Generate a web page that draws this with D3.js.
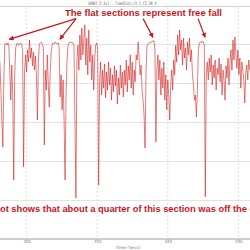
<!DOCTYPE html>
<html>
<head>
<meta charset="utf-8">
<script src="https://cdn.jsdelivr.net/npm/d3@7"></script>
<style>
  html, body { margin: 0; padding: 0; background: #fff; }
  svg { display: block; }
</style>
</head>
<body>
<svg id="chart" width="250" height="250"></svg>
<script>
// ---- data ----
const chartTitle = "JERKY 2.3x7 - TimeSlot:/3_1_C2_20_X";
const xLabel = "Time (Secs)";
const tickValues = [300, 310, 320, 330];
const tickLabels = ["300", "310", "320", "330"];
const gridValues = [-4, -3, -2, -1, 0];
const startTime = 296.2;     // seconds, first sample
const sampleStep = 0.14;     // seconds between samples
const accel = [
  -0.46,-1.18,-1.95,-2.64,-0.92,0.00,0.03,-0.03,0.03,0.00,
  -0.67,-1.44,-0.54,-1.31,-3.49,-0.79,-0.10,0.00,0.03,-0.03,
  0.00,0.03,0.00,-0.15,-3.15,-0.67,-0.28,-0.72,-0.15,-0.46,
  0.10,-0.36,-0.10,-0.56,-0.21,-0.67,-0.31,-0.79,-1.95,-0.41,
  0.00,0.03,0.05,0.00,-0.10,-2.59,-0.67,-1.18,-0.28,-1.05,
  -1.62,-0.67,-0.21,0.00,0.03,0.00,0.05,0.03,0.00,0.03,
  -0.10,-1.36,-0.79,-1.69,-0.92,-1.95,-3.49,-1.31,-0.41,-0.05,
  0.03,0.05,0.03,0.05,0.03,-0.05,-1.95,-3.95,-0.41,-0.03,
  -0.67,0.23,-0.41,0.41,-0.28,0.10,0.49,-0.54,0.15,-0.79,
  0.36,-0.46,-0.03,-0.92,-0.28,-1.18,-0.41,-0.03,0.03,-0.10,
  -3.62,-0.92,-0.46,-1.31,-0.67,-1.13,-0.51,-1.38,-0.72,-1.18,
  -0.46,-1.05,-0.62,-1.44,-0.79,-1.23,-0.56,-1.08,-0.67,-1.54,
  -0.87,-1.31,-0.54,-1.13,-0.72,-1.36,-0.67,-1.05,-0.41,-1.23,
  -0.56,-0.92,-0.28,-1.13,-0.46,-1.31,-0.67,-0.97,-0.28,-0.41,
  0.05,-0.36,-0.79,-0.54,-1.18,-1.44,-1.82,-2.67,-0.67,-0.05,
  0.00,0.03,0.03,0.05,0.05,0.08,0.08,-0.15,-2.51,-0.67,
  -0.28,-0.92,-0.41,-1.31,-0.62,-1.13,-0.46,-1.44,-0.79,-1.69,
  -0.92,-1.31,-1.95,-1.05,-0.67,-1.18,-0.41,-0.79,-0.03,-0.46,
  0.23,-0.28,0.36,-0.15,0.10,-0.54,0.15,-0.36,-0.10,-0.67,
  0.05,-0.28,0.15,-0.46,-0.15,-0.79,-1.05,-1.44,-1.31,-1.87,
  -1.18,-0.15,0.03,0.05,0.03,0.08,0.05,-0.03,-3.92,-0.79,
  -0.46,-0.92,-0.36,-0.72,-0.28,-1.05,-0.54,-0.87,-0.41,-1.18,
  -0.62,-0.79,-0.36,-0.97,-0.51,-1.31,-0.67,-0.92,-1.44,-0.56,
  -0.87,-0.36,-1.05,-0.46,-0.15,-0.67,0.10,-0.41,0.18,-0.28,
  -0.62,-0.15,-0.79,-0.36,-1.13,-0.46,-0.67,-0.92,-1.51,-0.72,
  -0.54,-0.92,-0.41,-0.67
];
const topNote = "The flat sections represent free fall";
const bottomNote = "This plot shows that about a quarter of this section was off the ground";
const arrowFromT = [307.0, 307.0, 316.5, 324.3];
const arrowToT = [297.5, 304.7, 317.9, 325.3];
const arrowToV = [0.12, 0.12, 0.17, 0.17];
const arrowFromV = 0.65;

// ---- drawing ----
const svg = d3.select("#chart");
const W = 250, H = 250;
const x = d3.scaleLinear().domain([300, 330]).range([26.7, 238.3]);
const y = d3.scaleLinear().domain([-5, 0.6]).range([239, 20.6]);
const series = accel.map((v, i) => ({ t: startTime + i * sampleStep, v }));

svg.append("rect").attr("width", W).attr("height", H).attr("fill", "#fff");

// title band line
svg.append("line").attr("x1", 0).attr("x2", W).attr("y1", 6.5).attr("y2", 6.5)
  .attr("stroke", "#c8c8c8").attr("stroke-width", 0.8);
svg.append("text").attr("x", 122).attr("y", 4.6).attr("text-anchor", "middle")
  .attr("font-family", "DejaVu Sans Mono, monospace").attr("font-size", 4.6)
  .attr("fill", "#555").attr("textLength", 69).attr("lengthAdjust", "spacingAndGlyphs")
  .text(chartTitle);

// grid
svg.append("g").selectAll("line").data(gridValues).join("line")
  .attr("x1", 0).attr("x2", W)
  .attr("y1", d => y(d) + 0.5).attr("y2", d => y(d) + 0.5)
  .attr("stroke", "#dcdcdc").attr("stroke-width", 0.8);
svg.append("g").selectAll("line").data(tickValues).join("line")
  .attr("x1", d => x(d)).attr("x2", d => x(d))
  .attr("y1", 7).attr("y2", y(-5))
  .attr("stroke", "#d4d4d4").attr("stroke-width", 0.8).attr("stroke-dasharray", "2,2");

// series line
const clip = svg.append("clipPath").attr("id", "plotclip");
clip.append("rect").attr("x", 0).attr("y", 7).attr("width", W).attr("height", y(-5) - 7);
const line = d3.line().x(d => x(d.t)).y(d => y(d.v));
svg.append("path").datum(series).attr("clip-path", "url(#plotclip)")
  .attr("d", line).attr("fill", "none")
  .attr("stroke", "#d01010").attr("stroke-width", 0.55).attr("stroke-linejoin", "round");

// x axis
const axis = d3.axisBottom(x).tickValues(tickValues)
  .tickFormat((d, i) => tickLabels[i]).tickSize(2).tickSizeOuter(0);
const gx = svg.append("g").attr("transform", `translate(0,${y(-5)})`).call(axis);
gx.select(".domain").remove();
gx.append("line").attr("x1", 0).attr("x2", W).attr("y1", 0).attr("y2", 0)
  .attr("stroke", "#9a9a9a").attr("stroke-width", 1);
gx.selectAll(".tick line").attr("stroke", "#aaa").attr("stroke-width", 0.6);
gx.selectAll(".tick text").attr("font-size", 4).attr("fill", "#777")
  .attr("font-family", "DejaVu Sans, sans-serif").attr("dy", "0.2em").attr("y", 3);
svg.append("text").attr("x", 128).attr("y", 249).attr("text-anchor", "middle")
  .attr("font-family", "DejaVu Sans, sans-serif").attr("font-size", 4.2).attr("fill", "#777")
  .text(xLabel);

// annotations
const red = "#c8161e";
const defs = svg.append("defs");
defs.append("marker").attr("id", "ah").attr("viewBox", "0 0 10 10")
  .attr("refX", 9).attr("refY", 5).attr("markerWidth", 5).attr("markerHeight", 5)
  .attr("markerUnits", "userSpaceOnUse").attr("orient", "auto")
  .append("path").attr("d", "M0,0 L10,5 L0,10 z").attr("fill", red);
svg.append("g").selectAll("line").data(arrowFromT).join("line")
  .attr("x1", d => x(d)).attr("y1", y(arrowFromV))
  .attr("x2", (d, i) => x(arrowToT[i])).attr("y2", (d, i) => y(arrowToV[i]))
  .attr("stroke", red).attr("stroke-width", 1.2).attr("marker-end", "url(#ah)");

svg.append("text").attr("x", 143.5).attr("y", 16).attr("text-anchor", "middle")
  .attr("font-family", "Liberation Sans, Arial, sans-serif").attr("font-weight", "bold")
  .attr("font-size", 9.5).attr("fill", red)
  .attr("textLength", 157).attr("lengthAdjust", "spacingAndGlyphs")
  .text(topNote);

// bottom note: cropped on both sides; "ot shows" begins at the left edge
const bn = svg.append("text").attr("y", 212)
  .attr("font-family", "Liberation Sans, Arial, sans-serif").attr("font-weight", "bold")
  .attr("font-size", 9).attr("fill", red).text(bottomNote);
const node = bn.node();
const cutStart = bottomNote.indexOf("ot shows");
const cutEnd = bottomNote.indexOf("ground");
const wPre = node.getSubStringLength(0, cutStart);
const wMid = node.getSubStringLength(cutStart, cutEnd - cutStart);
const fs = 9 * 250 / wMid;
bn.attr("font-size", fs).attr("x", -wPre * fs / 9);
</script>
</body>
</html>
